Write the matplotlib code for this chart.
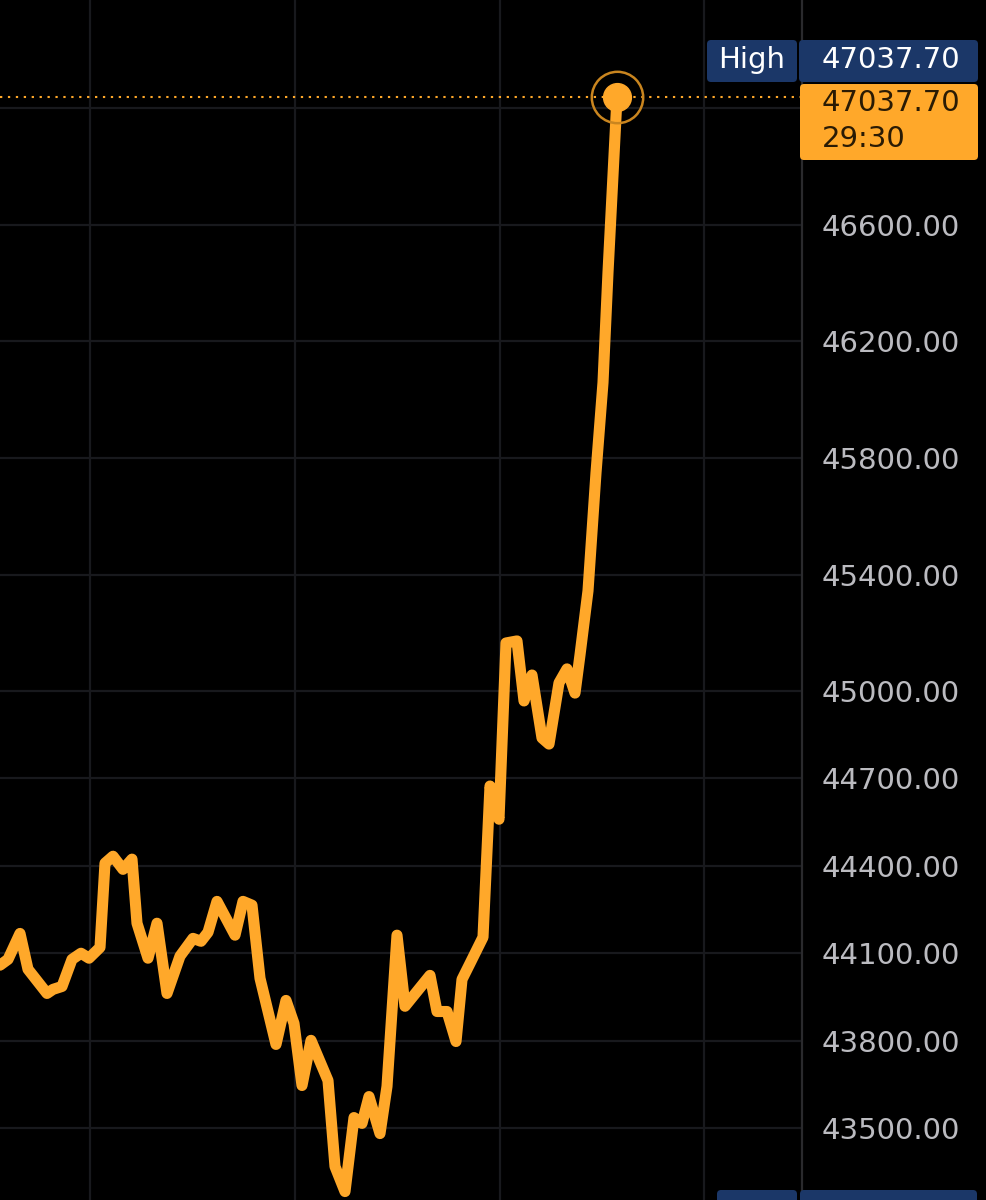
import matplotlib
matplotlib.use("Agg")
import matplotlib.pyplot as plt
from matplotlib.patches import FancyBboxPatch
from matplotlib.transforms import IdentityTransform

# price path (t = position along the time axis)
t = [0, 8, 20, 28, 47, 53, 62, 72, 81, 89, 100, 105, 113, 123, 132, 137, 148, 157,
     167, 180, 193, 201, 208, 217, 235, 243, 252, 260, 276, 286, 294, 302, 311, 328,
     335, 345, 354, 362, 369, 380, 387, 397, 405, 430, 437, 447, 456, 462, 470, 483,
     490, 499, 506, 517, 524, 532, 542, 549, 559, 567, 575, 580, 588, 596, 603, 608, 617]
price = [44059, 44079, 44168, 44045, 43962, 43976, 43986, 44079, 44100, 44083, 44120,
         44409, 44433, 44388, 44423, 44203, 44083, 44203, 43962, 44090, 44151, 44141,
         44172, 44278, 44162, 44278, 44265, 44014, 43787, 43938, 43859, 43646, 43801,
         43663, 43368, 43282, 43536, 43516, 43608, 43481, 43643, 44162, 43918, 44024,
         43900, 43900, 43797, 44010, 44065, 44155, 44674, 44560, 45165, 45172, 44966,
         45055, 44839, 44818, 45028, 45076, 44993, 45124, 45344, 45749, 46059, 46437, 47037.70]
high = 47037.70
countdown = "29:30"
yticks = [47000, 46600, 46200, 45800, 45400, 45000, 44700, 44400, 44100, 43800, 43500]
grid_t = [90, 295, 500, 704]

W, H = 987, 1200
orange = "#ffa82a"
navy = "#1b3768"

fig = plt.figure(figsize=(W / 100, H / 100), dpi=100, facecolor="black")
ax = fig.add_axes([0, 0, 802 / W, 1])
ax.set_facecolor("black")
ax.set_xlim(0, 802)
ax.set_ylim(43253, 47372)

ax.set_yticks(yticks)
ax.set_yticklabels(["" if v == 47000 else f"{v:.2f}" for v in yticks])
ax.yaxis.tick_right()
ax.tick_params(axis="y", length=0, pad=14, labelsize=21, labelcolor="#bbbbc0")
ax.set_xticks(grid_t)
ax.tick_params(axis="x", length=0, labelbottom=False)
ax.grid(True, color="#18191d", lw=1.6)
ax.set_axisbelow(True)
for s in ["top", "left", "bottom"]:
    ax.spines[s].set_visible(False)
ax.spines["right"].set_color("#2a2a2d")
ax.spines["right"].set_linewidth(1.6)

ax.axhline(high, color=orange, lw=1.5, ls=(0, (1.1, 2.7)), zorder=2)
ax.plot(t, price, color=orange, lw=8, solid_joinstyle="round",
        solid_capstyle="round", zorder=3)
ax.plot(t[-1], price[-1], "o", ms=20, color=orange, zorder=4)
ax.plot(t[-1], price[-1], "o", ms=37, mfc="none", mec="#c9851f", mew=1.8, zorder=4)


def box(x0, y0, x1, y1, color):
    # pixel box, y measured from the top of the image
    p = FancyBboxPatch((x0, H - y1), x1 - x0, y1 - y0,
                       boxstyle="round,pad=0,rounding_size=4",
                       transform=IdentityTransform(), fc=color, ec="none", zorder=5)
    fig.patches.append(p)


def label(x, y, s, color, ha="left"):
    fig.text(x / W, 1 - y / H, s, color=color, fontsize=21, ha=ha, va="center", zorder=6)


box(707, 40, 797, 82, navy)
box(799, 40, 978, 82, navy)
box(800, 84, 978, 160, orange)
box(717, 1190, 797, 1215, navy)
box(800, 1190, 977, 1215, navy)

label(752, 60, "High", "white", ha="center")
label(822, 60, f"{high:.2f}", "white")
label(822, 103, f"{high:.2f}", "#2a1b04")
label(822, 139, countdown, "#2a1b04")

fig.savefig("out.png", dpi=100, facecolor="black")
